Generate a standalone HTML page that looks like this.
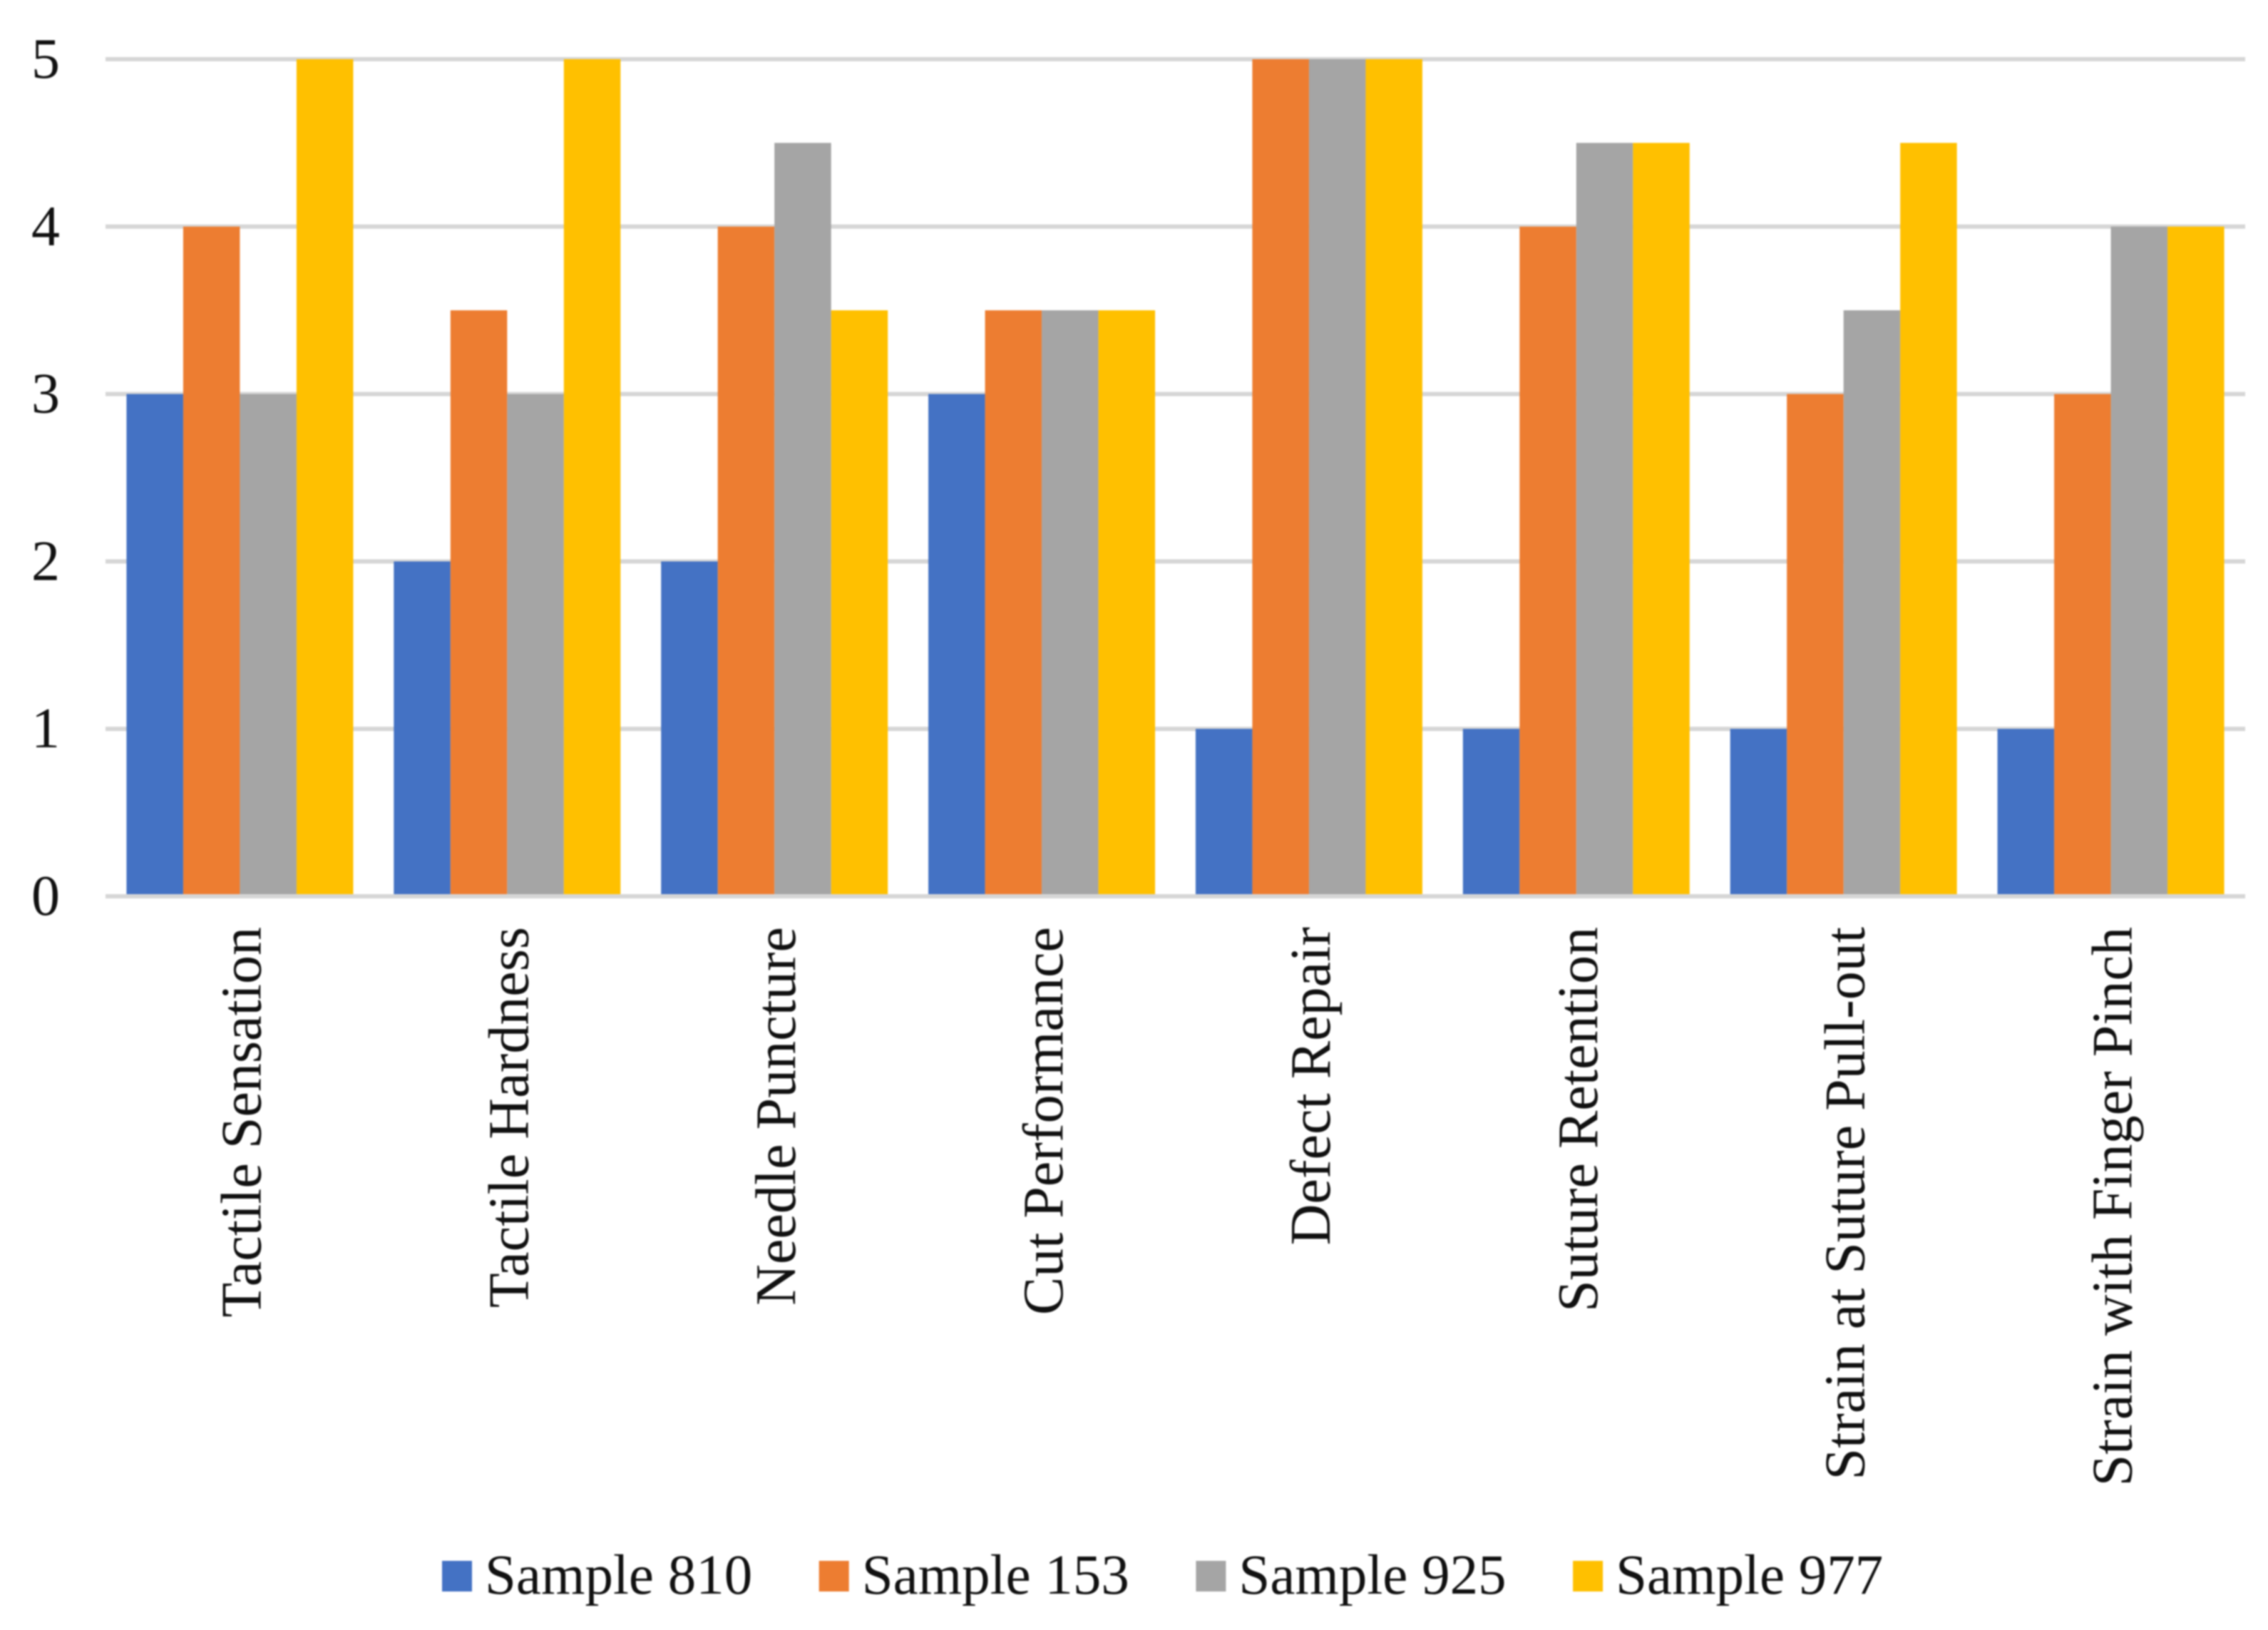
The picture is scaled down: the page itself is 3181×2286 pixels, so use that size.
<!DOCTYPE html>
<html>
<head>
<meta charset="utf-8">
<title>Sample ratings bar chart</title>
<style>
html,body{margin:0;padding:0;background:#fff;}
#chart{display:block;width:3181px;height:2286px;font-family:"Liberation Serif",serif;filter:blur(1px);}
</style>
</head>
<body>
<svg id="chart" xmlns="http://www.w3.org/2000/svg" width="3181" height="2286" viewBox="0 0 3181 2286"></svg>
<script>
const categories = ["Tactile Sensation","Tactile Hardness","Needle Puncture","Cut Performance","Defect Repair","Suture Retention","Strain at Suture Pull-out","Strain with Finger Pinch"];
const seriesNames = ["Sample 810","Sample 153","Sample 925","Sample 977"];
const sample810 = [3,2,2,3,1,1,1,1];
const sample153 = [4,3.5,4,3.5,5,4,3,3];
const sample925 = [3,3,4.5,3.5,5,4.5,3.5,4];
const sample977 = [5,5,3.5,3.5,5,4.5,4.5,4];
const yTicks = [0,1,2,3,4,5];

const seriesValues = [sample810,sample153,sample925,sample977];
const seriesColors = ["#4472C4","#ED7D31","#A5A5A5","#FFC000"];
const NS = "http://www.w3.org/2000/svg";
const svg = document.getElementById("chart");
const plotLeft = 150, plotRight = 3149, plotTop = 83, plotBottom = 1257, yMax = 5;
const bandWidth = (plotRight - plotLeft) / categories.length;
const barWidth = 79.5;
const groupShift = -1;

function xScale(i){ return plotLeft + bandWidth * (i + 0.5) + groupShift; }
function yScale(v){ return plotBottom - (v / yMax) * (plotBottom - plotTop); }
function make(tag, attrs, parent){
  const el = document.createElementNS(NS, tag);
  for (const k in attrs) el.setAttribute(k, attrs[k]);
  parent.appendChild(el);
  return el;
}

const gridGroup = make("g", {}, svg);


const tickGroup = make("g", {"font-size":80,"fill":"#111","text-anchor":"middle"}, svg);


yTicks.forEach(function(t){
  const line = make("line", {x1:plotLeft-2,x2:plotRight,y1:yScale(t),y2:yScale(t),stroke:"#d6d6d6","stroke-width":6}, gridGroup);
  
  
  const label = make("text", {x:64,y:yScale(t)+26}, tickGroup);
  label.textContent = String(t);
  
  
});

const barsGroup = make("g", {}, svg);


seriesValues.forEach(function(values, s){
  values.forEach(function(v, i){
    const x = xScale(i) + (s - seriesValues.length / 2) * barWidth;
    const bar = make("rect", {x:x,y:yScale(v),width:barWidth,height:plotBottom-3-yScale(v),fill:seriesColors[s]}, barsGroup);
    
    
  });
});

const catGroup = make("g", {"font-size":80,"fill":"#111","text-anchor":"end"}, svg);


categories.forEach(function(c, i){
  const bx = xScale(i) + 29, by = 1300;
  const label = make("text", {x:bx,y:by,transform:"rotate(-90 "+bx+" "+by+")"}, catGroup);
  label.textContent = c;
  
  
});

const legend = make("g", {}, svg);


seriesNames.forEach(function(name, s){
  const lx = 620 + s * 528.7;
  const entry = make("g", {}, legend);
  
  
  const swatch = make("rect", {x:lx,y:2189,width:42,height:43,fill:seriesColors[s]}, entry);
  
  
  const label = make("text", {x:lx+60,y:2235,"font-size":79,fill:"#111"}, entry);
  label.textContent = name;
  
  
});
</script>
</body>
</html>
